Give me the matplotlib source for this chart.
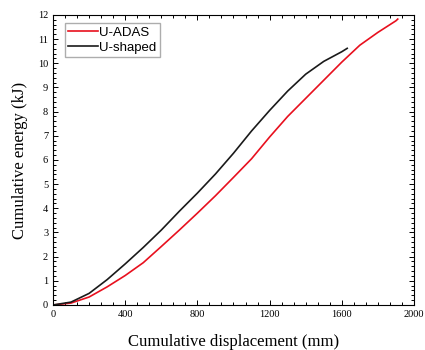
import matplotlib
matplotlib.use("Agg")
import matplotlib.pyplot as plt
from matplotlib.ticker import MultipleLocator, AutoMinorLocator

# U-ADAS (red)
disp_adas = [0, 100, 200, 300, 400, 500, 600, 700, 800, 900, 1000, 1100, 1200,
             1300, 1400, 1500, 1600, 1700, 1800, 1900, 1910]
energy_adas = [0, 0.08, 0.33, 0.75, 1.22, 1.75, 2.42, 3.1, 3.8, 4.52, 5.28, 6.05, 6.95,
               7.8, 8.55, 9.3, 10.05, 10.75, 11.28, 11.76, 11.83]

# U-shaped (black)
disp_u = [0, 100, 200, 300, 400, 500, 600, 700, 800, 900, 1000, 1100, 1200,
          1300, 1400, 1500, 1600, 1630]
energy_u = [0, 0.12, 0.48, 1.05, 1.7, 2.38, 3.1, 3.88, 4.63, 5.42, 6.28, 7.2, 8.05,
            8.85, 9.55, 10.08, 10.48, 10.62]

fig = plt.figure(figsize=(4.25, 3.5), dpi=100)
ax = fig.add_axes([0.1247, 0.1286, 0.8494, 0.8286])

ax.plot(disp_adas, energy_adas, color="#e8101e", lw=1.2, label="U-ADAS")
ax.plot(disp_u, energy_u, color="#1a1a1a", lw=1.2, label="U-shaped")

ax.set_xlim(0, 2000)
ax.set_ylim(0, 12)
ax.xaxis.set_major_locator(MultipleLocator(400))
ax.xaxis.set_minor_locator(AutoMinorLocator(6))
ax.yaxis.set_major_locator(MultipleLocator(1))
ax.yaxis.set_minor_locator(AutoMinorLocator(5))
ax.tick_params(which="both", direction="in", top=True, right=True, width=0.7)
ax.tick_params(which="major", length=3.5, labelsize=7.5)
ax.tick_params(which="minor", length=2)
for lab in ax.get_xticklabels() + ax.get_yticklabels():
    lab.set_family("Liberation Serif")
for s in ax.spines.values():
    s.set_linewidth(0.8)

ax.set_xlabel("Cumulative displacement (mm)", family="Liberation Serif", fontsize=12, labelpad=11)
ax.set_ylabel("Cumulative energy (kJ)", family="Liberation Serif", fontsize=12, labelpad=7)

ax.legend(loc="upper left", bbox_to_anchor=(0.025, 0.98), frameon=True,
          prop={"family": "Liberation Sans", "size": 9.5},
          fancybox=False, edgecolor="#999999", handlelength=2.3, handletextpad=0.05,
          borderpad=0.25, labelspacing=0.2, borderaxespad=0.2)

fig.savefig("out.png", dpi=100)
